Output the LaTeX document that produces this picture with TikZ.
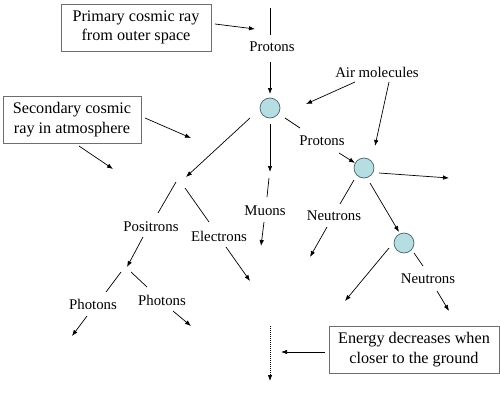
\documentclass[tikz,border=0pt]{standalone}
\usepackage{fontspec}
\setmainfont{Liberation Serif}
\usetikzlibrary{arrows.meta}
\definecolor{ballfill}{RGB}{182,222,226}
\definecolor{ballline}{RGB}{70,100,105}
\definecolor{boxline}{RGB}{110,110,110}
\begin{document}
\begin{tikzpicture}[x=1pt,y=-1pt,
  conn/.style={draw=black,line width=0.7pt},
  arr/.style={conn,-{Latex[length=6pt,width=4.5pt]}},
  ball/.style={circle,draw=ballline,fill=ballfill,line width=0.7pt,minimum size=20pt,inner sep=0pt},
  lbl/.style={font=\fontsize{14.8}{18}\selectfont,inner sep=0pt},
  infobox/.style={draw=boxline,line width=0.8pt,font=\fontsize{16.2}{19.5}\selectfont,align=center,inner sep=0pt,minimum width=#1}
]
\useasboundingbox (0,0) rectangle (500,407);
% boxes
\node[infobox=150pt,minimum height=47pt] (primary) at (136,27.5) {Primary cosmic ray\\from outer space};
\node[infobox=138pt,minimum height=47pt] (secondary) at (72,119.5) {Secondary cosmic\\ray in atmosphere};
\node[infobox=170pt,minimum height=47pt] (energy) at (414,349.5) {Energy decreases when\\closer to the ground};
% balls
\node[ball] (b1) at (270,108) {};
\node[ball] (b2) at (364,168) {};
\node[ball] (b3) at (404,243) {};
% labels
\node[lbl] (prot1) at (272,47) {Protons};
\node[lbl] (air) at (377,72) {Air molecules};
\node[lbl] (prot2) at (322,141) {Protons};
\node[lbl] (muons) at (265,211) {Muons};
\node[lbl] (neut1) at (334,216) {Neutrons};
\node[lbl] (neut2) at (428,279) {Neutrons};
\node[lbl] (posi) at (151,227) {Positrons};
\node[lbl] (elec) at (219,236) {Electrons};
\node[lbl] (phot1) at (93,304) {Photons};
\node[lbl] (phot2) at (162,300) {Photons};
% coordinates
\coordinate (pa1) at (215,24); \coordinate (pa2) at (255,29);
\coordinate (t0) at (270,8); \coordinate (t1) at (270,35);
\coordinate (t2) at (270,62); \coordinate (t3) at (270,94);
\coordinate (sa1) at (145,118); \coordinate (sa2) at (191,138);
\coordinate (sb1) at (79,146); \coordinate (sb2) at (113,169);
\coordinate (b1l) at (250,118); \coordinate (br1) at (186,177);
\coordinate (b1d) at (270,124); \coordinate (b1e) at (270,172);
\coordinate (b1r) at (285,118); \coordinate (b1s) at (300,128);
\coordinate (p2a) at (339,153); \coordinate (p2b) at (355,163);
\coordinate (am1) at (355,82); \coordinate (am2) at (306,104);
\coordinate (am3) at (389,82); \coordinate (am4) at (375,146);
\coordinate (b2r) at (379,173); \coordinate (b2e) at (449,178);
\coordinate (b2l) at (354,180); \coordinate (b2m) at (340,204);
\coordinate (n1a) at (327,227); \coordinate (n1b) at (310,257);
\coordinate (b2d) at (370,183); \coordinate (b3t) at (399,232);
\coordinate (b3l) at (389,248); \coordinate (b3e) at (345,301);
\coordinate (b3r) at (414,253); \coordinate (b3s) at (423,266);
\coordinate (n2a) at (437,291); \coordinate (n2b) at (449,311);
\coordinate (mu0) at (269,178); \coordinate (mu1) at (267,197);
\coordinate (mu2) at (264,222); \coordinate (mu3) at (261,246);
\coordinate (bp1) at (176,182); \coordinate (bp2) at (158,213);
\coordinate (be1) at (185,188); \coordinate (be2) at (209,222);
\coordinate (el1) at (226,247); \coordinate (el2) at (250,281);
\coordinate (po1) at (143,237); \coordinate (po2) at (127,267);
\coordinate (ph1) at (121,272); \coordinate (ph2) at (106,292);
\coordinate (ph3) at (131,272); \coordinate (ph4) at (147,287);
\coordinate (pf1) at (87,316); \coordinate (pf2) at (72,336);
\coordinate (pg1) at (173,311); \coordinate (pg2) at (191,326);
\coordinate (d1) at (270,326); \coordinate (d2) at (270,381);
\coordinate (ea1) at (325,352); \coordinate (ea2) at (281,352);
% connectors
\draw[arr] (pa1) -- (pa2);
\draw[conn] (t0) -- (t1);
\draw[arr] (t2) -- (t3);
\draw[arr] (sa1) -- (sa2);
\draw[arr] (sb1) -- (sb2);
\draw[arr] (b1l) -- (br1);
\draw[arr] (b1d) -- (b1e);
\draw[conn] (b1r) -- (b1s);
\draw[arr] (p2a) -- (p2b);
\draw[arr] (am1) -- (am2);
\draw[arr] (am3) -- (am4);
\draw[arr] (b2r) -- (b2e);
\draw[conn] (b2l) -- (b2m);
\draw[arr] (n1a) -- (n1b);
\draw[arr] (b2d) -- (b3t);
\draw[arr] (b3l) -- (b3e);
\draw[conn] (b3r) -- (b3s);
\draw[arr] (n2a) -- (n2b);
\draw[conn] (mu0) -- (mu1);
\draw[arr] (mu2) -- (mu3);
\draw[conn] (bp1) -- (bp2);
\draw[conn] (be1) -- (be2);
\draw[arr] (el1) -- (el2);
\draw[arr] (po1) -- (po2);
\draw[conn] (ph1) -- (ph2);
\draw[conn] (ph3) -- (ph4);
\draw[arr] (pf1) -- (pf2);
\draw[arr] (pg1) -- (pg2);
\draw[arr,dash pattern=on 1pt off 1pt] (d1) -- (d2);
\draw[arr] (ea1) -- (ea2);
\end{tikzpicture}
\end{document}
